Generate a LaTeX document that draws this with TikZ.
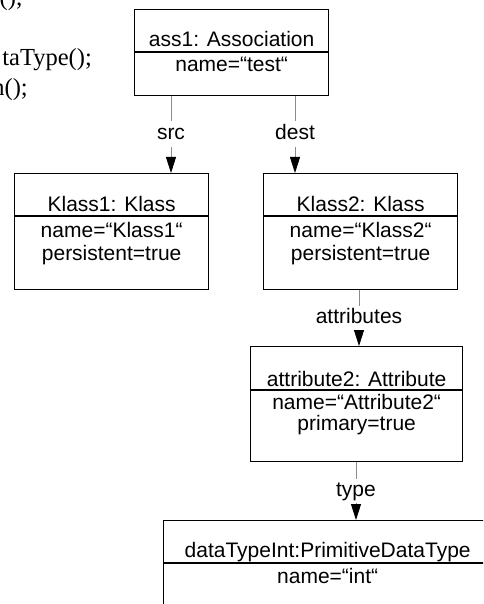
\documentclass[tikz,border=0pt]{standalone}
\usepackage{fontspec}
\setmainfont{Liberation Sans}
\newfontfamily\codefont{Liberation Serif}
\usetikzlibrary{arrows.meta,calc}
\definecolor{conngray}{RGB}{140,140,140}
\begin{document}
\begin{tikzpicture}[x=1pt,y=-1pt,
  objbox/.style={draw=black,line width=1.3pt,inner sep=0pt,anchor=north west},
  divline/.style={draw=black,line width=1.3pt},
  txt/.style={inner sep=0pt,anchor=base,font=\fontsize{21}{25}\selectfont},
  lbl/.style={inner sep=0pt,minimum height=26pt,text height=15pt,text depth=4pt,font=\fontsize{21}{25}\selectfont},
  conn/.style={draw=conngray,line width=0.8pt},
  arr/.style={-{Triangle[length=16pt,width=10pt,color=black]}},
  code/.style={inner sep=0pt,anchor=base east,font=\codefont\fontsize{24.5}{30}\selectfont}]
\useasboundingbox (0,0) rectangle (483,604);
\clip (0,0) rectangle (483,604);
\fill[white] (0,0) rectangle (483,604);

% code fragments on the left
\node[code] (c1) at (23,6) {();};
\node[code] (c2) at (92,66) {taType();};
\node[code] (c3) at (28,96) {n();};

% ass1
\node[objbox,minimum width=194pt,minimum height=86pt] (ass1) at (134,9) {};
\draw[divline] ($(ass1.north west)+(0,43)$) -- ($(ass1.north east)+(0,43)$);
\node[txt] (ass1t) at ($(ass1.north)+(0,38)$) {ass1: Association};
\node[txt] (ass1a) at ($(ass1.north)+(0,63)$) {name=“test“};

% Klass1
\node[objbox,minimum width=194pt,minimum height=116pt] (k1) at (14,173) {};
\draw[divline] ($(k1.north west)+(0,43)$) -- ($(k1.north east)+(0,43)$);
\node[txt] (k1t) at ($(k1.north)+(0,38)$) {Klass1: Klass};
\node[txt] (k1a) at ($(k1.north)+(0,64)$) {name=“Klass1“};
\node[txt] (k1b) at ($(k1.north)+(0,87)$) {persistent=true};

% Klass2
\node[objbox,minimum width=194pt,minimum height=116pt] (k2) at (263,173) {};
\draw[divline] ($(k2.north west)+(0,43)$) -- ($(k2.north east)+(0,43)$);
\node[txt] (k2t) at ($(k2.north)+(0,38)$) {Klass2: Klass};
\node[txt] (k2a) at ($(k2.north)+(0,64)$) {name=“Klass2“};
\node[txt] (k2b) at ($(k2.north)+(0,87)$) {persistent=true};

% attribute2
\node[objbox,minimum width=212pt,minimum height=115pt] (at2) at (250,346) {};
\draw[divline] ($(at2.north west)+(0,44)$) -- ($(at2.north east)+(0,44)$);
\node[txt] (at2t) at ($(at2.north)+(0,40)$) {attribute2: Attribute};
\node[txt] (at2a) at ($(at2.north)+(0,63)$) {name=“Attribute2“};
\node[txt] (at2b) at ($(at2.north)+(0,84)$) {primary=true};

% dataTypeInt
\node[objbox,minimum width=328pt,minimum height=180pt] (dti) at (163,520) {};
\draw[divline] ($(dti.north west)+(0,43)$) -- ($(dti.north east)+(0,43)$);
\node[txt] (dtit) at ($(dti.north)+(0,37)$) {dataTypeInt:PrimitiveDataType};
\node[txt] (dtia) at ($(dti.north)+(0,63)$) {name=“int“};

% connectors
\node[lbl] (srcl) at (171,134) {src};
\draw[conn] (srcl.north |- ass1.south) -- (srcl.north);
\draw[conn,arr] (srcl.south) -- (srcl.south |- k1.north);

\node[lbl] (destl) at (295,134) {dest};
\draw[conn] (destl.north |- ass1.south) -- (destl.north);
\draw[conn,arr] (destl.south) -- (destl.south |- k2.north);

\node[lbl,minimum height=24pt] (attl) at (359,318) {attributes};
\draw[conn] (attl.north |- k2.south) -- (attl.north);
\draw[conn,arr] (attl.south) -- (attl.south |- at2.north);

\node[lbl,minimum height=24pt] (typel) at (356,491) {type};
\draw[conn] (typel.north |- at2.south) -- (typel.north);
\draw[conn,arr] (typel.south) -- (typel.south |- dti.north);
\end{tikzpicture}
\end{document}
